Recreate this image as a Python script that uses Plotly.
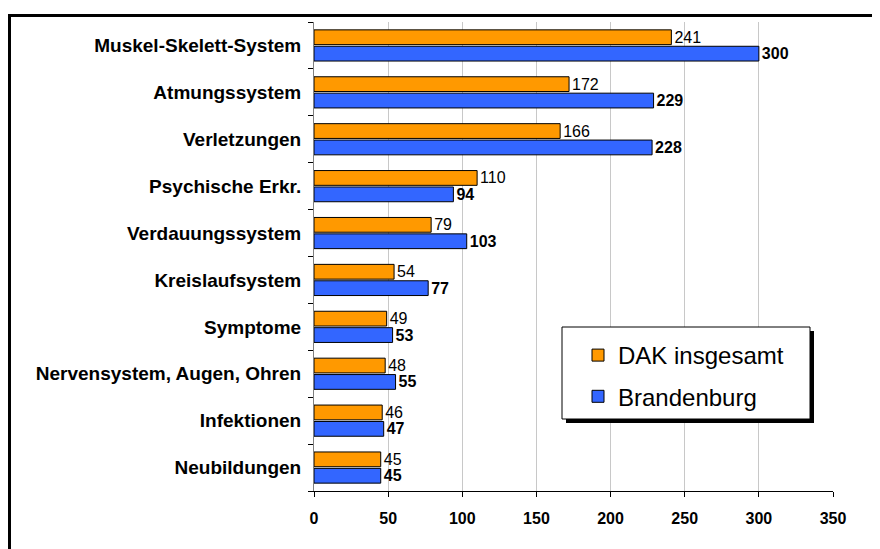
import plotly.graph_objects as go

categories = ["Muskel-Skelett-System", "Atmungssystem", "Verletzungen", "Psychische Erkr.",
              "Verdauungssystem", "Kreislaufsystem", "Symptome", "Nervensystem, Augen, Ohren",
              "Infektionen", "Neubildungen"]
dak_values = [241, 172, 166, 110, 79, 54, 49, 48, 46, 45]
brb_values = [300, 229, 228, 94, 103, 77, 53, 55, 47, 45]
x_ticks = [0, 50, 100, 150, 200, 250, 300, 350]

FONT = "Liberation Sans, Arial, sans-serif"

fig = go.Figure()
fig.add_trace(go.Bar(
    y=categories, x=dak_values, orientation="h", name="DAK insgesamt", legendgroup="a",
    marker=dict(color="#FF9900", line=dict(color="black", width=1)),
    text=[str(v) for v in dak_values], textposition="outside", constraintext="none",
    textfont=dict(family=FONT, size=16, color="black"), cliponaxis=False,
))
fig.add_trace(go.Bar(
    y=categories, x=brb_values, orientation="h", name="Brandenburg", legendgroup="b",
    marker=dict(color="#3366FF", line=dict(color="black", width=1)),
    text=["<b>%d</b>" % v for v in brb_values], textposition="outside", constraintext="none",
    textfont=dict(family=FONT, size=16, color="black"), cliponaxis=False,
))

# page offset: the html body adds 8px margin, so screen = fig + 8
OFF = 8
W, H = 880, 549
L = 314 - OFF
Rr = 833 - OFF
T = 22 - OFF
Bt = 491 - OFF
pw = Rr - L
ph = Bt - T

def px(xs):
    return (xs - OFF - L) / pw

def py(ys):
    return 1 - (ys - OFF - T) / ph

shapes = [
    # outer frame
    dict(type="rect", xref="paper", yref="paper", x0=px(9.5), x1=px(920), y0=py(600), y1=py(15.5),
         line=dict(color="black", width=3), fillcolor="rgba(0,0,0,0)", layer="below"),
    # legend shadow
    dict(type="rect", xref="paper", yref="paper", x0=px(566), x1=px(814), y0=py(423), y1=py(331),
         line=dict(width=0), fillcolor="black", layer="above"),
    # legend box
    dict(type="rect", xref="paper", yref="paper", x0=px(562), x1=px(810), y0=py(419), y1=py(327),
         line=dict(color="black", width=1), fillcolor="white", layer="above"),
]

fig.update_layout(
    width=W, height=H,
    margin=dict(l=L, r=W - Rr, t=T, b=H - Bt),
    paper_bgcolor="white", plot_bgcolor="white",
    barmode="group", bargap=0.3, bargroupgap=0.1,
    font=dict(family=FONT, color="black"),
    showlegend=True,
    legend=dict(x=px(578), y=py(333), xanchor="left", yanchor="top",
                bgcolor="rgba(0,0,0,0)", borderwidth=0,
                font=dict(family=FONT, size=24, color="black"),
                tracegroupgap=7, itemwidth=30),
    shapes=shapes,
    xaxis=dict(range=[0, 350], tickvals=x_ticks, ticktext=["<b>%d</b>" % v for v in x_ticks],
               tickfont=dict(family=FONT, size=16, color="black"),
               showgrid=True, gridcolor="#c8c8c8", gridwidth=1,
               showline=True, linecolor="black", linewidth=1,
               ticks="outside", ticklen=5, tickcolor="black", zeroline=False,
               ticklabelstandoff=8),
    yaxis=dict(autorange="reversed", categoryorder="array", categoryarray=categories,
               tickvals=categories, ticktext=["<b>%s</b>" % c for c in categories],
               tickfont=dict(family=FONT, size=19, color="black"),
               showline=True, linecolor="#808080", linewidth=1,
               ticks="outside", tickson="boundaries", ticklen=5, tickcolor="black",
               ticklabelstandoff=8),
)

fig.write_html("out.html")
